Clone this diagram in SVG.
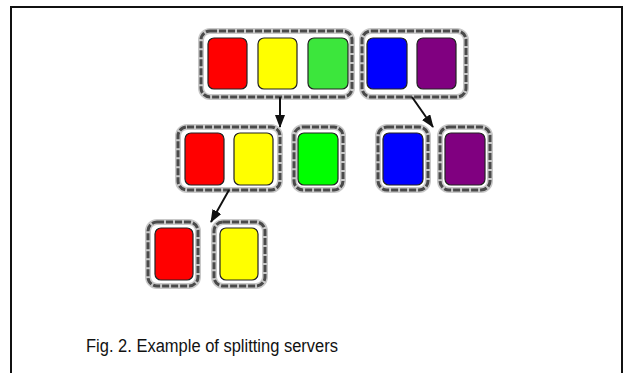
<svg xmlns="http://www.w3.org/2000/svg" width="633" height="373" viewBox="0 0 633 373">
<defs>
<marker id="ah" viewBox="0 0 13 10" refX="12" refY="5" markerWidth="6.5" markerHeight="5" orient="auto" markerUnits="strokeWidth">
<path d="M0,0 L13,5 L0,10 z" fill="#111"/>
</marker>
</defs>
<style>
.grpO{fill:none;stroke:#c8c8c8;stroke-width:6;}
.grp{fill:none;stroke:#4a4a4a;stroke-width:3;stroke-dasharray:7,2;}
.srv{stroke:#222;stroke-width:1.2;}
.conn{stroke:#111;stroke-width:2;fill:none;marker-end:url(#ah);}
.cap{font-family:"Liberation Sans",Arial,sans-serif;font-size:18px;fill:#111;}
</style>
<rect x="0" y="0" width="633" height="373" fill="#fff"/>
<path d="M11,380 V7 H622 V380" fill="none" stroke="#111" stroke-width="2"/>

<g id="g1">
<rect class="grpO" x="201" y="31" width="151" height="66" rx="9"/>
<rect class="grp" x="201" y="31" width="151" height="66" rx="9"/>
<rect class="srv" x="208" y="38" width="39" height="51" rx="6" fill="#ff0000"/>
<rect class="srv" x="258" y="38" width="39" height="51" rx="6" fill="#ffff00"/>
<rect class="srv" x="308" y="38" width="40" height="51" rx="6" fill="#3ce63c"/>
</g>
<g id="g2">
<rect class="grpO" x="362" y="31" width="104" height="66" rx="9"/>
<rect class="grp" x="362" y="31" width="104" height="66" rx="9"/>
<rect class="srv" x="367" y="38" width="40" height="51" rx="6" fill="#0000ff"/>
<rect class="srv" x="417" y="38" width="39" height="51" rx="6" fill="#800080"/>
</g>

<g id="g3">
<rect class="grpO" x="178" y="127" width="102" height="63" rx="9"/>
<rect class="grp" x="178" y="127" width="102" height="63" rx="9"/>
<rect class="srv" x="185" y="133" width="39" height="52" rx="6" fill="#ff0000"/>
<rect class="srv" x="234" y="133" width="39" height="52" rx="6" fill="#ffff00"/>
</g>
<g id="g4">
<rect class="grpO" x="294" y="127" width="49" height="63" rx="9"/>
<rect class="grp" x="294" y="127" width="49" height="63" rx="9"/>
<rect class="srv" x="298" y="133" width="40" height="52" rx="6" fill="#00ff00"/>
</g>
<g id="g5">
<rect class="grpO" x="378" y="127" width="50" height="63" rx="9"/>
<rect class="grp" x="378" y="127" width="50" height="63" rx="9"/>
<rect class="srv" x="383" y="133" width="40" height="52" rx="6" fill="#0000ff"/>
</g>
<g id="g6">
<rect class="grpO" x="440" y="127" width="50" height="63" rx="9"/>
<rect class="grp" x="440" y="127" width="50" height="63" rx="9"/>
<rect class="srv" x="445" y="133" width="40" height="52" rx="6" fill="#800080"/>
</g>

<g id="g7">
<rect class="grpO" x="148" y="222" width="50" height="64" rx="9"/>
<rect class="grp" x="148" y="222" width="50" height="64" rx="9"/>
<rect class="srv" x="155" y="228" width="38" height="52" rx="6" fill="#ff0000"/>
</g>
<g id="g8">
<rect class="grpO" x="214" y="222" width="51" height="64" rx="9"/>
<rect class="grp" x="214" y="222" width="51" height="64" rx="9"/>
<rect class="srv" x="220" y="228" width="38" height="52" rx="6" fill="#ffff00"/>
</g>

<g id="connectors">
<line class="conn" x1="280" y1="97" x2="280" y2="127"/>
<line class="conn" x1="412" y1="97" x2="433" y2="127"/>
<line class="conn" x1="229" y1="190" x2="211" y2="222"/>
</g>

<text class="cap" x="86" y="352" textLength="252" lengthAdjust="spacingAndGlyphs">Fig. 2. Example of splitting servers</text>
</svg>
